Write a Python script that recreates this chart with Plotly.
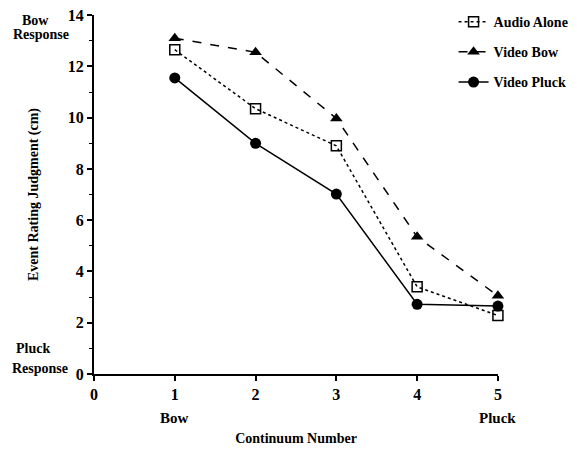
import plotly.graph_objects as go

continuum = [1, 2, 3, 4, 5]
audio_alone = [12.65, 10.35, 8.9, 3.4, 2.28]
video_bow = [13.1, 12.55, 9.97, 5.35, 3.05]
video_pluck = [11.55, 9.0, 7.02, 2.72, 2.65]

x_ticks = [0, 1, 2, 3, 4, 5]
y_ticks = [0, 2, 4, 6, 8, 10, 12, 14]

FONT = "Liberation Serif"
fig = go.Figure()

fig.add_trace(go.Scatter(
    x=continuum, y=audio_alone, name="<b>Audio Alone</b>", mode="lines+markers",
    line=dict(color="black", width=1.5, dash="dot"),
    marker=dict(symbol="square-open", size=10, color="black", line=dict(width=1.5)),
    legendgroup="a", cliponaxis=False))
fig.add_trace(go.Scatter(
    x=continuum, y=video_bow, name="<b>Video Bow</b>", mode="lines+markers",
    line=dict(color="black", width=1.5, dash="dash"),
    marker=dict(symbol="triangle-up", size=11, color="black"),
    legendgroup="b", cliponaxis=False))
fig.add_trace(go.Scatter(
    x=continuum, y=video_pluck, name="<b>Video Pluck</b>", mode="lines+markers",
    line=dict(color="black", width=1.5),
    marker=dict(symbol="circle", size=11, color="black"),
    legendgroup="c", cliponaxis=False))

fig.update_layout(
    width=577, height=450,
    margin=dict(l=86, r=87, t=7, b=84, autoexpand=False),
    paper_bgcolor="white", plot_bgcolor="white",
    font=dict(family=FONT, size=14, color="black"),
    showlegend=True,
    legend=dict(x=0.89, y=1.025, xanchor="left", yanchor="top",
                bgcolor="rgba(0,0,0,0)", traceorder="grouped", tracegroupgap=9,
                font=dict(family=FONT, size=14, color="black")),
    xaxis=dict(range=[0, 5.001], tickvals=x_ticks, ticktext=[f"<b>{v}</b>" for v in x_ticks],
               showgrid=False, zeroline=False, showline=True, linecolor="black", linewidth=2,
               ticks="outside", ticklen=5, tickwidth=1.5, tickcolor="black",
               tickfont=dict(size=16), automargin=False, ticklabeloverflow="allow",
               title=dict(text="<b>Continuum Number</b>", font=dict(size=14), standoff=31)),
    yaxis=dict(range=[0, 14.005], tickvals=y_ticks, ticktext=[f"<b>{v}</b>" for v in y_ticks],
               showgrid=False, zeroline=False, showline=True, linecolor="black", linewidth=2,
               ticks="outside", ticklen=5, tickwidth=1.5, tickcolor="black",
               tickfont=dict(size=16), automargin=False, ticklabeloverflow="allow",
               minor=dict(dtick=1, ticks="outside", ticklen=3, tickcolor="black", tickwidth=1),
               title=dict(text="<b>Event Rating Judgment (cm)</b>", font=dict(size=14), standoff=26)),
)

for txt, yv, xc in [("Bow", 13.8, -0.145), ("Response", 13.25, -0.132),
                    ("Pluck", 0.98, -0.15), ("Response", 0.23, -0.134)]:
    fig.add_annotation(x=xc, y=yv, xref="paper", yref="y", text=f"<b>{txt}</b>",
                       showarrow=False, xanchor="center", yanchor="middle",
                       font=dict(size=14))
fig.add_annotation(x=1, y=0, xref="x", yref="paper", yshift=-34, yanchor="top", text="<b>Bow</b>",
                   showarrow=False, font=dict(size=15))
fig.add_annotation(x=5, y=0, xref="x", yref="paper", yshift=-34, yanchor="top", text="<b>Pluck</b>",
                   showarrow=False, font=dict(size=15))

fig.write_html("out.html")
